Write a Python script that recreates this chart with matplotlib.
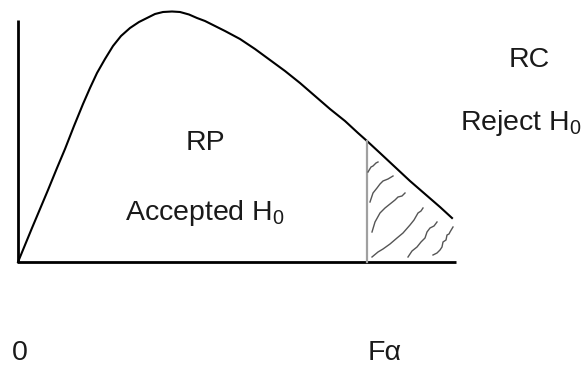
import matplotlib
matplotlib.use("Agg")
import matplotlib.pyplot as plt

plt.rcParams['font.family'] = ['Liberation Sans', 'DejaVu Sans']
plt.rcParams['mathtext.fontset'] = 'custom'
plt.rcParams['mathtext.rm'] = 'Liberation Sans'
plt.rcParams['mathtext.it'] = 'Liberation Sans:italic'

# Density curve (pixel-like units, y grows downward)
curve_x = [18, 25, 32, 40, 48, 57, 65, 74, 83, 90, 97, 105, 113, 121, 130, 139,
           147, 155, 163, 172, 180, 189, 197, 205, 213, 225, 240, 255, 270, 285,
           300, 315, 330, 345, 358, 367, 380, 395, 410, 425, 440, 452]
curve_y = [262, 245, 228, 209, 190, 168, 149, 126, 104, 88, 73, 59, 46, 36, 28, 22,
           18, 14, 12, 11.5, 12, 14.5, 18, 21, 25, 31, 39, 49, 60, 71,
           83, 96, 109, 121, 133, 141, 153, 167, 181, 194, 207, 218]

# Axes of the sketch
axis_origin = (17.5, 262)
axis_top = 20
axis_right = 456

# Critical value line
crit_x = 367
crit_top = 141

# Hand-drawn hatch strokes in the rejection region
hatch_strokes = [
    ([368, 371, 373, 376, 378], [172, 167, 166, 163, 162]),
    ([370, 373, 377, 380, 383, 388, 393], [202, 193, 188, 184, 181, 179, 176]),
    ([372, 375, 380, 385, 390, 395, 398, 402, 405], [232, 222, 213, 208, 204, 200, 197, 196, 193]),
    ([372, 378, 383, 390, 397, 403, 410, 414, 418, 421, 423], [257, 252, 249, 244, 238, 233, 225, 220, 213, 211, 208]),
    ([408, 412, 417, 421, 425, 427, 430, 434, 437], [257, 251, 247, 242, 238, 232, 228, 226, 222]),
    ([433, 437, 440, 442, 443, 446, 447, 449, 450, 453], [255, 253, 250, 247, 242, 240, 235, 234, 232, 227]),
]

labels = ["RP", "Accepted H$_0$", "RC", "Reject H$_0$", "0", "F\u03b1"]
label_pos = [(186, 150), (125, 220), (509, 67), (460, 130), (12, 360), (368, 360)]

fig = plt.figure(figsize=(5.85, 3.65), dpi=100)
ax = fig.add_axes([0, 0, 1, 1])
ax.set_xlim(0, 585)
ax.set_ylim(365, 0)
ax.axis('off')

# axes lines
ax.plot([axis_origin[0], axis_origin[0]], [axis_top, axis_origin[1]],
        color='black', lw=2.0, solid_capstyle='butt')
ax.plot([axis_origin[0] - 1, axis_right], [axis_origin[1], axis_origin[1]],
        color='black', lw=2.0, solid_capstyle='butt')

# curve
ax.plot(curve_x, curve_y, color='black', lw=1.5, solid_joinstyle='round')

# critical line
ax.plot([crit_x, crit_x], [crit_top, axis_origin[1]], color='#a0a0a0', lw=1.6)

# hatch strokes
for hx, hy in hatch_strokes:
    ax.plot(hx, hy, color='#555555', lw=1.0, solid_joinstyle='round')

for txt, (px, py) in zip(labels, label_pos):
    ax.text(px, py, txt, fontsize=20.5, color='#1a1a1a', ha='left', va='baseline')

fig.savefig('out.png', dpi=100)
